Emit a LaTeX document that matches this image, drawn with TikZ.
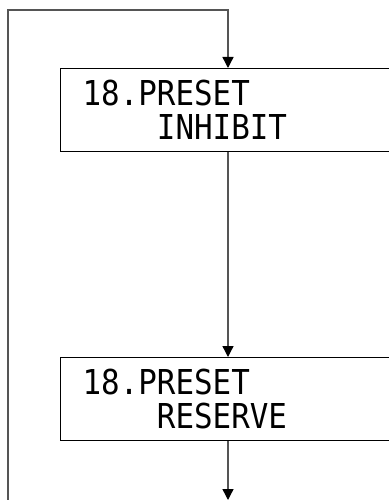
\documentclass[tikz,border=0pt]{standalone}
\usepackage{fontspec}
\usetikzlibrary{arrows.meta,positioning}
\newfontfamily\lcdfont[FakeStretch=0.9]{DejaVu Sans Mono}
\definecolor{linec}{HTML}{555555}

\begin{document}
\begin{tikzpicture}[x=1pt,y=-1pt,
    lcdbox/.style={draw=black,line width=1.2pt,anchor=north west,text width=300pt,align=left,
      minimum height=83pt,inner xsep=22pt,inner ysep=0pt,font=\lcdfont\fontsize{34.3}{34}\selectfont},
    flow/.style={draw=linec,line width=1.4pt,-{Triangle[black,length=11pt,width=11pt]}}]
    \useasboundingbox (0,0) rectangle (388,500);
    \foreach \n/\y/\lab in {inh/68/INHIBIT, res/357/RESERVE} {
      \node[lcdbox] (\n) at (60,\y) {18.PRESET\\\phantom{0000}\lab};
    }
    \coordinate (loopin) at (8,500);
    \coordinate (spine) at (228,10);
    \coordinate (exit) at (228,500);
    \draw[flow] (loopin) |- (spine) -- (spine |- inh.north);
    \draw[flow] (spine |- inh.south) -- (spine |- res.north);
    \draw[flow] (spine |- res.south) -- (exit);
  \end{tikzpicture}
\end{document}
